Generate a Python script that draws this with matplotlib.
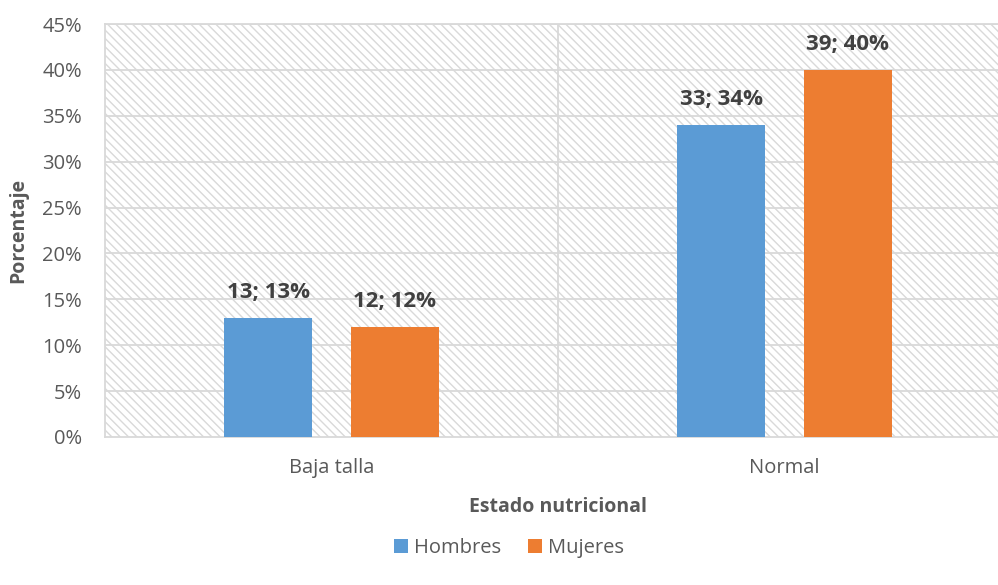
import matplotlib.pyplot as plt
from matplotlib.patches import Rectangle
import numpy as np

# datos
categorias = ['Baja talla', 'Normal']
hombres_n = [13, 33]
hombres_pct = [13, 34]
mujeres_n = [12, 39]
mujeres_pct = [12, 40]

azul = '#5B9BD5'
naranja = '#ED7D31'
gris_texto = '#595959'
gris_grid = '#D9D9D9'

plt.rcParams['font.family'] = ['Open Sans', 'DejaVu Sans']
plt.rcParams['hatch.linewidth'] = 1.0

fig = plt.figure(figsize=(9.98, 5.85), dpi=100)
# el área del gráfico sigue más allá del borde derecho
ax = fig.add_axes([105 / 998, 148 / 585, 906 / 998, 413 / 585])

x = np.arange(len(categorias))
ancho = 0.196
desp = 0.14

# fondo rayado
fondo = Rectangle((0, 0), 1, 1, transform=ax.transAxes, facecolor='white',
                  edgecolor=gris_grid, hatch='\\\\\\\\', linewidth=0, zorder=0)
ax.add_patch(fondo)

b1 = ax.bar(x - desp, hombres_pct, ancho, color=azul, label='Hombres', zorder=3)
b2 = ax.bar(x + desp, mujeres_pct, ancho, color=naranja, label='Mujeres', zorder=3)

for barras, ns, ps in [(b1, hombres_n, hombres_pct), (b2, mujeres_n, mujeres_pct)]:
    for r, n, p in zip(barras, ns, ps):
        ax.text(r.get_x() + r.get_width() / 2, p + 1.6, f'{n}; {p}%',
                ha='center', va='bottom', fontsize=16, fontweight='bold',
                color='#404040', zorder=4)

ax.set_xlim(-0.5, 1.5)
ax.set_ylim(0, 45)
ax.set_yticks(np.arange(0, 46, 5))
ax.set_yticklabels([f'{v}%' for v in range(0, 46, 5)])
ax.set_xticks(x)
ax.set_xticklabels(categorias)

# líneas de división
for v in range(5, 46, 5):
    ax.axhline(v, color=gris_grid, linewidth=1.3, zorder=1)
ax.axvline(0.5, color=gris_grid, linewidth=1.3, zorder=1)

for lado in ['top', 'left', 'bottom']:
    ax.spines[lado].set_color(gris_grid)
    ax.spines[lado].set_linewidth(1.3)
ax.spines['right'].set_visible(False)

ax.tick_params(axis='both', length=0, labelsize=14.5, colors=gris_texto)
ax.tick_params(axis='y', pad=16.5)
ax.tick_params(axis='x', pad=15)

ax.set_ylabel('Porcentaje', fontsize=14, fontweight='bold', color=gris_texto)
ax.set_xlabel('Estado nutricional', fontsize=14, fontweight='bold', color=gris_texto)
ax.xaxis.set_label_coords((558 - 105) / 906, -(507 - 437) / 413)
ax.yaxis.set_label_coords(-87 / 906, (437 - 230) / 413)
ax.xaxis.label.set_va('center')
ax.yaxis.label.set_va('center')

fig.legend(handles=[b1, b2], loc='center', bbox_to_anchor=(509 / 998, 1 - 548 / 585),
           ncol=2, frameon=False, fontsize=14.5, handlelength=0.7, handleheight=0.7,
           columnspacing=1.3, handletextpad=0.3, labelcolor=gris_texto)

fig.savefig('out.png', dpi=100)
